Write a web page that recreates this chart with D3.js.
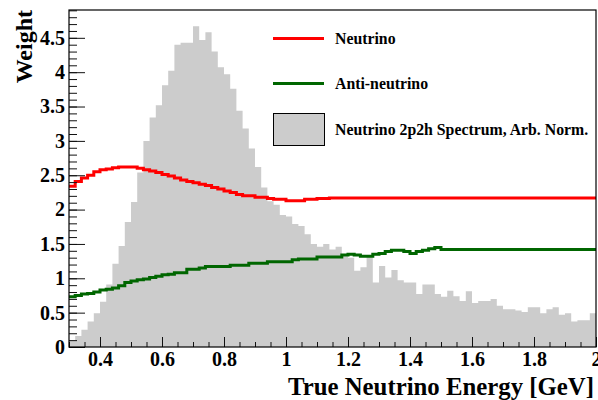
<!DOCTYPE html>
<html>
<head>
<meta charset="utf-8">
<script src="https://cdn.jsdelivr.net/npm/d3@7"></script>
<style>
  html, body { margin: 0; padding: 0; background: #fff; }
  svg { display: block; }
  text { font-family: "Liberation Serif", "Times New Roman", serif; font-weight: bold; }
</style>
</head>
<body>
<svg id="chart" width="598" height="400"></svg>
<script>
// ---------------- data ----------------
const binStart = 0.30;
const binWidth = 0.02;
// Neutrino 2p2h spectrum (arbitrary normalisation), 85 bins from 0.30 to 2.00 GeV
const spectrum = [
  0.09, 0.16, 0.25, 0.37, 0.49, 0.66, 0.91, 1.21, 1.47, 1.82,
  2.11, 2.54, 3.00, 3.34, 3.52, 3.81, 4.02, 4.40, 4.43, 4.43,
  4.67, 4.47, 4.58, 4.30, 4.07, 3.97, 3.76, 3.44, 3.18, 2.89,
  2.62, 2.32, 2.12, 2.07, 1.92, 1.90, 1.79, 1.76, 1.64, 1.50,
  1.46, 1.50, 1.42, 1.46, 1.32, 1.30, 1.11, 1.16, 1.31, 0.94,
  1.18, 1.01, 1.12, 0.97, 0.94, 0.94, 0.77, 0.91, 0.91, 0.77,
  0.73, 0.82, 0.74, 0.67, 0.81, 0.64, 0.67, 0.67, 0.70, 0.60,
  0.55, 0.55, 0.53, 0.51, 0.58, 0.58, 0.49, 0.55, 0.58, 0.47,
  0.49, 0.37, 0.39, 0.39, 0.49
];
// Neutrino weight
const neutrino = [
  2.34, 2.41, 2.46, 2.50, 2.55, 2.58, 2.59, 2.61, 2.62, 2.62,
  2.62, 2.60, 2.58, 2.56, 2.54, 2.51, 2.49, 2.46, 2.43, 2.41,
  2.39, 2.37, 2.35, 2.32, 2.30, 2.27, 2.25, 2.22, 2.20, 2.20,
  2.18, 2.18, 2.16, 2.15, 2.15, 2.13, 2.13, 2.13, 2.15, 2.15,
  2.16, 2.16, 2.17, 2.17, 2.17, 2.17, 2.17, 2.17, 2.17, 2.17,
  2.17, 2.17, 2.17, 2.17, 2.17, 2.17, 2.17, 2.17, 2.17, 2.17,
  2.17, 2.17, 2.17, 2.17, 2.17, 2.17, 2.17, 2.17, 2.17, 2.17,
  2.17, 2.17, 2.17, 2.17, 2.17, 2.17, 2.17, 2.17, 2.17, 2.17,
  2.17, 2.17, 2.17, 2.17, 2.17
];
// Anti-neutrino weight
const antineutrino = [
  0.73, 0.75, 0.77, 0.78, 0.80, 0.83, 0.84, 0.86, 0.89, 0.94,
  0.96, 0.98, 0.99, 1.01, 1.03, 1.05, 1.06, 1.08, 1.08, 1.13,
  1.13, 1.15, 1.17, 1.17, 1.17, 1.17, 1.19, 1.19, 1.19, 1.22,
  1.22, 1.22, 1.24, 1.24, 1.24, 1.24, 1.27, 1.28, 1.28, 1.28,
  1.31, 1.31, 1.31, 1.31, 1.34, 1.35, 1.34, 1.32, 1.32, 1.35,
  1.36, 1.39, 1.41, 1.41, 1.39, 1.36, 1.39, 1.41, 1.43, 1.45,
  1.42, 1.42, 1.42, 1.42, 1.42, 1.42, 1.42, 1.42, 1.42, 1.42,
  1.42, 1.42, 1.42, 1.42, 1.42, 1.42, 1.42, 1.42, 1.42, 1.42,
  1.42, 1.42, 1.42, 1.42, 1.42
];
const xTickValues = [0.4, 0.6, 0.8, 1.0, 1.2, 1.4, 1.6, 1.8, 2.0];
const xTickLabels = ["0.4", "0.6", "0.8", "1", "1.2", "1.4", "1.6", "1.8", "2"];
const yTickValues = [0, 0.5, 1, 1.5, 2, 2.5, 3, 3.5, 4, 4.5];
const yTickLabels = ["0", "0.5", "1", "1.5", "2", "2.5", "3", "3.5", "4", "4.5"];
const legendLabels = ["Neutrino", "Anti-neutrino", "Neutrino 2p2h Spectrum, Arb. Norm."];
const xTitle = "True Neutrino Energy [GeV]";
const yTitle = "Weight";

// ---------------- layout ----------------
const svg = d3.select("#chart");
const L = 69, R = 596, T = 10, B = 347;
const x = d3.scaleLinear().domain([0.3, 2.0]).range([L, R]);
const y = d3.scaleLinear().domain([0, 4.905]).range([B, T]);

const colHist = "#cccccc", colNu = "#ff0000", colAnti = "#006600";

function stepPoints(vals) {
  const pts = vals.map((v, i) => [binStart + i * binWidth, v]);
  pts.push([binStart + vals.length * binWidth, vals[vals.length - 1]]);
  return pts;
}

svg.append("defs").append("clipPath").attr("id", "clip")
  .append("rect").attr("x", L).attr("y", T).attr("width", R - L).attr("height", B - T);

const plot = svg.append("g").attr("clip-path", "url(#clip)");

// histogram
const area = d3.area()
  .x(d => x(d[0])).y0(y(0)).y1(d => y(d[1]))
  .curve(d3.curveStepAfter);
plot.append("path").datum(stepPoints(spectrum))
  .attr("d", area).attr("fill", colHist).attr("stroke", "none");

// lines
const line = d3.line().x(d => x(d[0])).y(d => y(d[1])).curve(d3.curveStepAfter);
plot.append("path").datum(stepPoints(neutrino))
  .attr("d", line).attr("fill", "none").attr("stroke", colNu).attr("stroke-width", 3);
plot.append("path").datum(stepPoints(antineutrino))
  .attr("d", line).attr("fill", "none").attr("stroke", colAnti).attr("stroke-width", 3);

// axes: minor ticks
const yMinor = d3.range(0, 4.9001, 0.1);
const xMinor = d3.range(0.3, 2.0001, 0.05);
svg.append("g").attr("transform", `translate(${L},0)`)
  .call(d3.axisLeft(y).tickValues(yMinor).tickSize(-8).tickFormat(""))
  .call(g => g.select(".domain").remove())
  .call(g => g.selectAll("line").attr("stroke", "#111"));
svg.append("g").attr("transform", `translate(0,${B})`)
  .call(d3.axisBottom(x).tickValues(xMinor).tickSize(-5).tickFormat(""))
  .call(g => g.select(".domain").remove())
  .call(g => g.selectAll("line").attr("stroke", "#111"));

// major ticks + labels
const yAxis = svg.append("g").attr("transform", `translate(${L},0)`)
  .call(d3.axisLeft(y).tickValues(yTickValues).tickSize(-16).tickPadding(4)
    .tickFormat((d, i) => yTickLabels[i]));
yAxis.select(".domain").remove();
yAxis.selectAll("line").attr("stroke", "#111");
yAxis.selectAll("text").attr("font-size", 20).attr("font-family", "Liberation Serif")
  .attr("font-weight", "bold").attr("fill", "#000");

const xAxis = svg.append("g").attr("transform", `translate(0,${B})`)
  .call(d3.axisBottom(x).tickValues(xTickValues).tickSize(-10).tickPadding(5)
    .tickFormat((d, i) => xTickLabels[i]));
xAxis.select(".domain").remove();
xAxis.selectAll("line").attr("stroke", "#111");
xAxis.selectAll("text").attr("font-size", 20).attr("font-family", "Liberation Serif")
  .attr("font-weight", "bold").attr("fill", "#000");

// frame
svg.append("rect").attr("x", L).attr("y", T).attr("width", R - L).attr("height", B - T)
  .attr("fill", "none").attr("stroke", "#000").attr("stroke-width", 1.2);

// titles
svg.append("text").attr("x", 594).attr("y", 395).attr("text-anchor", "end")
  .attr("font-size", 24.8).text(xTitle);
svg.append("text").attr("transform", `translate(32,${T}) rotate(-90)`)
  .attr("text-anchor", "end").attr("font-size", 24).text(yTitle);

// legend
const leg = svg.append("g");
const lx0 = 273, lx1 = 324, tx = 335, lfs = 15.8;
leg.append("line").attr("x1", lx0).attr("x2", lx1).attr("y1", 38.5).attr("y2", 38.5)
  .attr("stroke", colNu).attr("stroke-width", 3);
leg.append("text").attr("x", tx).attr("y", 44).attr("font-size", lfs).text(legendLabels[0]);
leg.append("line").attr("x1", lx0).attr("x2", lx1).attr("y1", 83.5).attr("y2", 83.5)
  .attr("stroke", colAnti).attr("stroke-width", 3);
leg.append("text").attr("x", tx).attr("y", 89).attr("font-size", lfs).text(legendLabels[1]);
leg.append("rect").attr("x", lx0 + 0.5).attr("y", 113.5).attr("width", lx1 - lx0).attr("height", 32)
  .attr("fill", colHist).attr("stroke", "#000").attr("stroke-width", 1);
leg.append("text").attr("x", tx).attr("y", 135).attr("font-size", lfs).text(legendLabels[2]);
</script>
</body>
</html>
